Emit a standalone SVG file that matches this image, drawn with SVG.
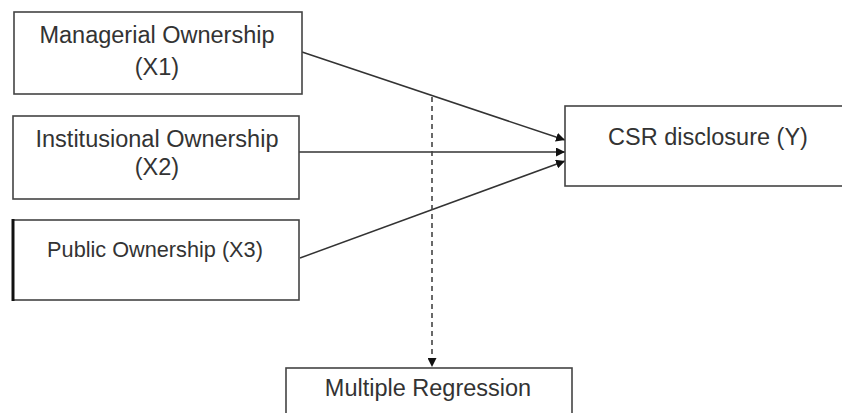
<svg xmlns="http://www.w3.org/2000/svg" width="842" height="413" viewBox="0 0 842 413">
<defs>
<style>
.box{fill:#fff;stroke:#444;stroke-width:1.6}
.t{font-family:"Liberation Sans",Arial,sans-serif;font-size:23.5px;fill:#333;text-anchor:middle}
.c{fill:none;stroke:#333;stroke-width:1.5}
.d{fill:none;stroke:#444;stroke-width:1.6;stroke-dasharray:5,4}
</style>
<marker id="ah" viewBox="0 0 10 10" refX="10" refY="5" markerWidth="9" markerHeight="9" markerUnits="userSpaceOnUse" orient="auto">
<path d="M0,0 L10,5 L0,10 z" fill="#111"/>
</marker>
</defs>
<rect width="842" height="413" fill="#fff"/>
<g id="connectors">
<line class="c" x1="302" y1="52" x2="565" y2="140" marker-end="url(#ah)"/>
<line class="c" x1="299" y1="152" x2="565" y2="152" marker-end="url(#ah)"/>
<line class="c" x1="300" y1="258" x2="565" y2="161" marker-end="url(#ah)"/>
<line class="d" x1="432" y1="97" x2="432" y2="367" marker-end="url(#ah)"/>
</g>
<g id="x1">
<rect class="box" x="14" y="12" width="288" height="82"/>
<text class="t" x="157" y="43">Managerial Ownership</text>
<text class="t" x="157" y="75">(X1)</text>
</g>
<g id="x2">
<rect class="box" x="13" y="116" width="286" height="83"/>
<text class="t" x="157" y="147">Institusional Ownership</text>
<text class="t" x="157" y="175">(X2)</text>
</g>
<g id="x3">
<rect class="box" x="13" y="220" width="286" height="80" stroke="#222"/>
<line x1="13" y1="219" x2="13" y2="301" stroke="#111" stroke-width="3"/>
<text class="t" x="155" y="257" style="font-size:21.7px">Public Ownership (X3)</text>
</g>
<g id="y">
<rect class="box" x="565" y="106" width="290" height="80"/>
<text class="t" x="708" y="145">CSR disclosure (Y)</text>
</g>
<g id="mr">
<rect class="box" x="286" y="368" width="286" height="60"/>
<text class="t" x="428" y="396">Multiple Regression</text>
</g>
</svg>
